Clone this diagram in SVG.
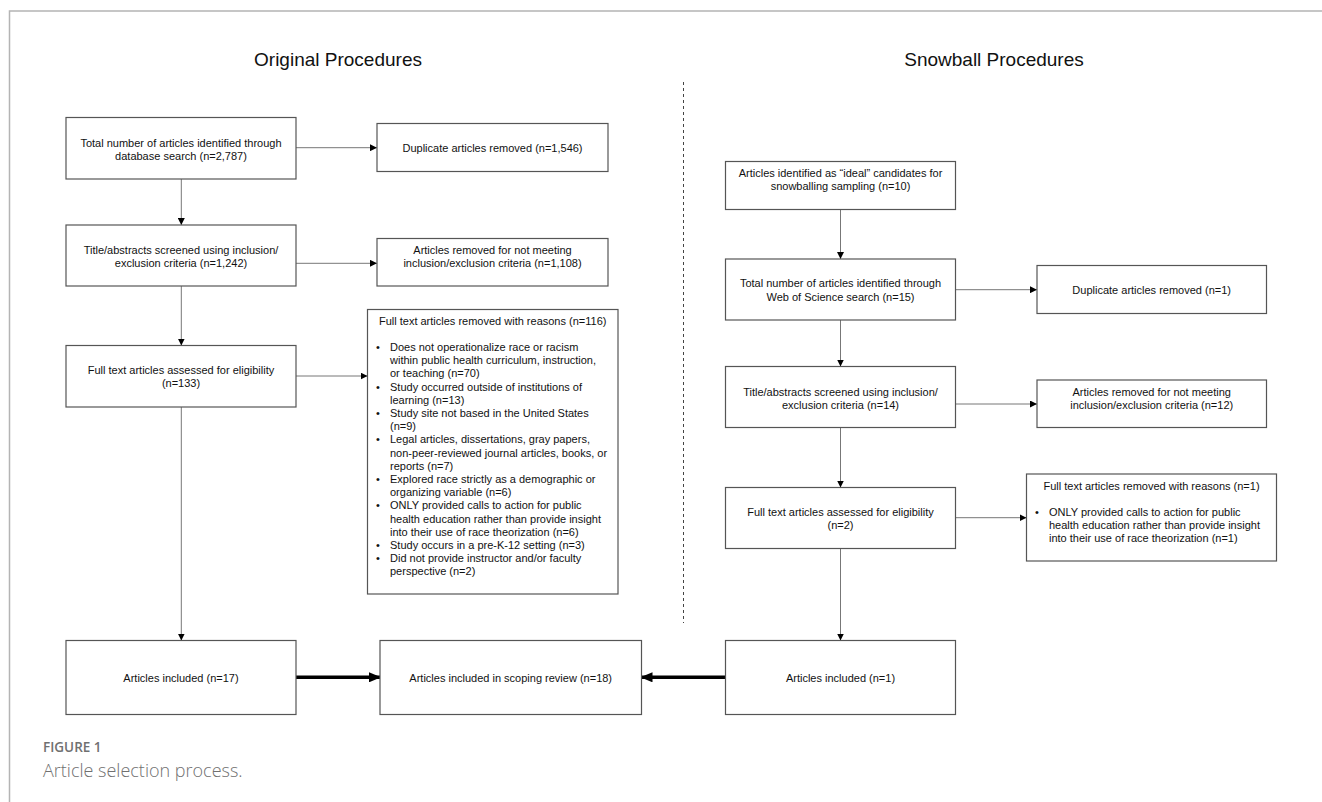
<svg xmlns="http://www.w3.org/2000/svg" width="1322" height="802" viewBox="0 0 1322 802">
<defs>
<style>
.box{fill:#fff;stroke:#555;stroke-width:1.2}
.t{font-family:"Liberation Sans",Arial,sans-serif;font-size:11px;fill:#111}
.c{text-anchor:middle}
.title{font-family:"Liberation Sans",Arial,sans-serif;font-size:19px;fill:#111;text-anchor:middle}
.ln{fill:none;stroke:#777;stroke-width:1}
.thick{fill:none;stroke:#000;stroke-width:3.5}
.cap1{font-family:"Open Sans",sans-serif;font-size:13.5px;font-weight:600;fill:#707070}
.cap2{font-family:"Open Sans",sans-serif;font-size:18px;font-weight:300;fill:#707070}
</style>
<marker id="ah" markerUnits="userSpaceOnUse" markerWidth="7" markerHeight="7" refX="7" refY="3.5" orient="auto"><path d="M0,0 L7,3.5 L0,7 z" fill="#000"/></marker>
<marker id="ahb" markerUnits="userSpaceOnUse" markerWidth="12" markerHeight="10" refX="11" refY="5" orient="auto"><path d="M0,0 L12,5 L0,10 z" fill="#000"/></marker>
</defs>
<rect width="1322" height="802" fill="#fff"/>
<path d="M9.5,802 V11 H1322" fill="none" stroke="#b4b4b4" stroke-width="1.5"/>
<text class="title" x="338" y="66">Original Procedures</text>
<text class="title" x="994" y="66">Snowball Procedures</text>
<line x1="683.5" y1="82" x2="683.5" y2="623" stroke="#444" stroke-width="1" stroke-dasharray="3,3"/>

<g id="connectors">
<line class="ln" x1="296" y1="147.7" x2="377" y2="147.7" marker-end="url(#ah)"/>
<line class="ln" x1="181.3" y1="179" x2="181.3" y2="225" marker-end="url(#ah)"/>
<line class="ln" x1="296" y1="263.3" x2="377" y2="263.3" marker-end="url(#ah)"/>
<line class="ln" x1="181.3" y1="286" x2="181.3" y2="345.5" marker-end="url(#ah)"/>
<line class="ln" x1="296" y1="376" x2="367.5" y2="376" marker-end="url(#ah)"/>
<line class="ln" x1="181.3" y1="407" x2="181.3" y2="640.5" marker-end="url(#ah)"/>
<line class="thick" x1="296" y1="677.3" x2="380" y2="677.3" marker-end="url(#ahb)"/>
<line class="thick" x1="725.5" y1="677.3" x2="641.5" y2="677.3" marker-end="url(#ahb)"/>
<line class="ln" x1="840.5" y1="209.5" x2="840.5" y2="259" marker-end="url(#ah)"/>
<line class="ln" x1="955.5" y1="289.7" x2="1037" y2="289.7" marker-end="url(#ah)"/>
<line class="ln" x1="840.5" y1="320" x2="840.5" y2="366.5" marker-end="url(#ah)"/>
<line class="ln" x1="955.5" y1="404" x2="1037" y2="404" marker-end="url(#ah)"/>
<line class="ln" x1="840.5" y1="427.5" x2="840.5" y2="487.5" marker-end="url(#ah)"/>
<line class="ln" x1="955.5" y1="517.7" x2="1026.5" y2="517.7" marker-end="url(#ah)"/>
<line class="ln" x1="840.5" y1="548.5" x2="840.5" y2="640.5" marker-end="url(#ah)"/>
</g>

<g id="nodeA"><rect class="box" x="66" y="117.5" width="230" height="61.5"/>
<text class="t c" x="181" y="146.5">Total number of articles identified through</text>
<text class="t c" x="181" y="159.5">database search (n=2,787)</text></g>

<g id="nodeB"><rect class="box" x="377" y="123.5" width="231" height="48"/>
<text class="t c" x="492.5" y="151.5">Duplicate articles removed (n=1,546)</text></g>

<g id="nodeC"><rect class="box" x="66" y="225" width="230" height="61"/>
<text class="t c" x="181" y="254">Title/abstracts screened using inclusion/</text>
<text class="t c" x="181" y="267.3">exclusion criteria (n=1,242)</text></g>

<g id="nodeD"><rect class="box" x="377" y="238.5" width="231" height="47.5"/>
<text class="t c" x="492.5" y="254">Articles removed for not meeting</text>
<text class="t c" x="492.5" y="267.3">inclusion/exclusion criteria (n=1,108)</text></g>

<g id="nodeE"><rect class="box" x="66" y="345.5" width="230" height="61.5"/>
<text class="t c" x="181" y="374.3">Full text articles assessed for eligibility</text>
<text class="t c" x="181" y="387.3">(n=133)</text></g>

<g id="nodeF"><rect class="box" x="367.5" y="309.5" width="250.5" height="284.5"/>
<text class="t c" x="492.7" y="325">Full text articles removed with reasons (n=116)</text>
<text class="t" x="376" y="351">•</text><text class="t" x="390" y="351">Does not operationalize race or racism</text>
<text class="t" x="390" y="364.2">within public health curriculum, instruction,</text>
<text class="t" x="390" y="377.4">or teaching (n=70)</text>
<text class="t" x="376" y="390.6">•</text><text class="t" x="390" y="390.6">Study occurred outside of institutions of</text>
<text class="t" x="390" y="403.8">learning (n=13)</text>
<text class="t" x="376" y="417">•</text><text class="t" x="390" y="417">Study site not based in the United States</text>
<text class="t" x="390" y="430.2">(n=9)</text>
<text class="t" x="376" y="443.4">•</text><text class="t" x="390" y="443.4">Legal articles, dissertations, gray papers,</text>
<text class="t" x="390" y="456.6">non-peer-reviewed journal articles, books, or</text>
<text class="t" x="390" y="469.8">reports (n=7)</text>
<text class="t" x="376" y="483">•</text><text class="t" x="390" y="483">Explored race strictly as a demographic or</text>
<text class="t" x="390" y="496.2">organizing variable (n=6)</text>
<text class="t" x="376" y="509.4">•</text><text class="t" x="390" y="509.4">ONLY provided calls to action for public</text>
<text class="t" x="390" y="522.6">health education rather than provide insight</text>
<text class="t" x="390" y="535.8">into their use of race theorization (n=6)</text>
<text class="t" x="376" y="549">•</text><text class="t" x="390" y="549">Study occurs in a pre-K-12 setting (n=3)</text>
<text class="t" x="376" y="562.2">•</text><text class="t" x="390" y="562.2">Did not provide instructor and/or faculty</text>
<text class="t" x="390" y="575.4">perspective (n=2)</text></g>

<g id="nodeG"><rect class="box" x="66" y="640.5" width="230" height="74"/>
<text class="t c" x="181" y="681.5">Articles included (n=17)</text></g>

<g id="nodeH"><rect class="box" x="380" y="640.5" width="261.5" height="74"/>
<text class="t c" x="510.7" y="681.5">Articles included in scoping review (n=18)</text></g>

<g id="nodeI"><rect class="box" x="725.5" y="640.5" width="230" height="74"/>
<text class="t c" x="840.5" y="681.5">Articles included (n=1)</text></g>

<g id="nodeJ"><rect class="box" x="725.5" y="161.5" width="230" height="48"/>
<text class="t c" x="840.5" y="177.3">Articles identified as “ideal” candidates for</text>
<text class="t c" x="840.5" y="190">snowballing sampling (n=10)</text></g>

<g id="nodeK"><rect class="box" x="725.5" y="259" width="230" height="61"/>
<text class="t c" x="840.5" y="287.3">Total number of articles identified through</text>
<text class="t c" x="840.5" y="300.7">Web of Science search (n=15)</text></g>

<g id="nodeL"><rect class="box" x="1037" y="265.5" width="229.5" height="48"/>
<text class="t c" x="1151.7" y="294">Duplicate articles removed (n=1)</text></g>

<g id="nodeM"><rect class="box" x="725.5" y="366.5" width="230" height="61"/>
<text class="t c" x="840.5" y="395.7">Title/abstracts screened using inclusion/</text>
<text class="t c" x="840.5" y="408.5">exclusion criteria (n=14)</text></g>

<g id="nodeN"><rect class="box" x="1037" y="380" width="229.5" height="47.5"/>
<text class="t c" x="1151.7" y="395.7">Articles removed for not meeting</text>
<text class="t c" x="1151.7" y="408.5">inclusion/exclusion criteria (n=12)</text></g>

<g id="nodeO"><rect class="box" x="725.5" y="487.5" width="230" height="61"/>
<text class="t c" x="840.5" y="516">Full text articles assessed for eligibility</text>
<text class="t c" x="840.5" y="529.3">(n=2)</text></g>

<g id="nodeP"><rect class="box" x="1026.5" y="474" width="250" height="87"/>
<text class="t c" x="1151.5" y="489.7">Full text articles removed with reasons (n=1)</text>
<text class="t" x="1035" y="516.3">•</text><text class="t" x="1049" y="516.3">ONLY provided calls to action for public</text>
<text class="t" x="1049" y="529">health education rather than provide insight</text>
<text class="t" x="1049" y="542.3">into their use of race theorization (n=1)</text></g>

<g id="caption">
<text class="cap1" x="43" y="752.3">FIGURE 1</text>
<text class="cap2" x="43" y="776.5">Article selection process.</text>
</g>
</svg>
